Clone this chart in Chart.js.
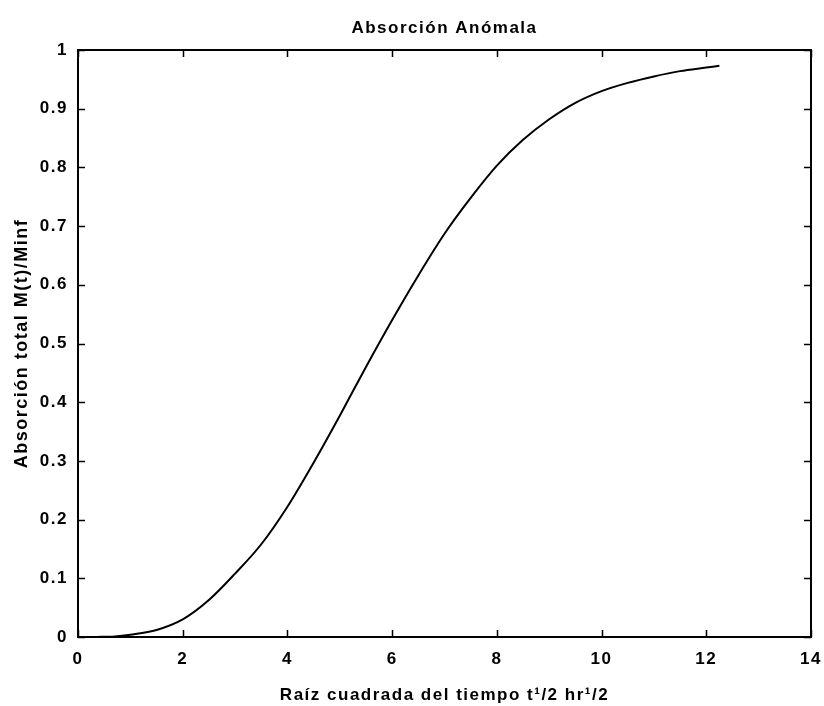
<!DOCTYPE html>
<html>
<head>
<meta charset="utf-8">
<script src="https://cdn.jsdelivr.net/npm/chart.js@4/dist/chart.umd.min.js"></script>
<style>
  html, body { margin: 0; padding: 0; background: #fff; }
  #wrap { width: 824px; height: 706px; }
</style>
</head>
<body>
<div id="wrap"><canvas id="chart" width="824" height="706"></canvas></div>
<script>
// sqrt(t) values and total absorption
const rootTime = [0.35, 0.7, 1, 1.5, 2, 2.5, 3, 3.5, 4, 4.5, 5, 5.5, 6, 6.5, 7, 7.5, 8, 8.5, 9, 9.5, 10, 10.5, 11, 11.5, 12, 12.25];
const absorption = [0, 0.001, 0.004, 0.012, 0.03, 0.063, 0.108, 0.158, 0.222, 0.297, 0.377, 0.46, 0.54, 0.616, 0.687, 0.748, 0.803, 0.847, 0.882, 0.91, 0.93, 0.944, 0.955, 0.964, 0.970, 0.973];

const xTicks = [0, 2, 4, 6, 8, 10, 12, 14];
const yTicks = [0, 0.1, 0.2, 0.3, 0.4, 0.5, 0.6, 0.7, 0.8, 0.9, 1];

const FONT = "'Liberation Sans', Arial, sans-serif";

// old MATLAB export has loosely spaced glyphs
const spacing = {
  id: 'spacing',
  beforeLayout(chart) { chart.ctx.letterSpacing = '1.5px'; },
  beforeDraw(chart) { chart.ctx.letterSpacing = '1.5px'; }
};

// box with ticks pointing inwards
const boxTicks = {
  id: 'boxTicks',
  afterDraw(chart) {
    const { ctx, chartArea: a, scales } = chart;
    const len = 7;
    ctx.save();
    ctx.strokeStyle = '#000';
    ctx.lineWidth = 1.5;
    ctx.beginPath();
    xTicks.forEach(v => {
      const px = Math.round(scales.x.getPixelForValue(v)) + 0.5;
      ctx.moveTo(px, a.bottom); ctx.lineTo(px, a.bottom - len);
      ctx.moveTo(px, a.top); ctx.lineTo(px, a.top + len);
    });
    yTicks.forEach(v => {
      const py = Math.round(scales.y.getPixelForValue(v)) + 0.5;
      ctx.moveTo(a.left, py); ctx.lineTo(a.left + len, py);
      ctx.moveTo(a.right, py); ctx.lineTo(a.right - len, py);
    });
    ctx.stroke();
    ctx.lineWidth = 2;
    ctx.strokeRect(a.left, a.top, a.right - a.left, a.bottom - a.top);
    ctx.restore();
  }
};

new Chart(document.getElementById('chart'), {
  type: 'line',
  data: {
    datasets: [{
      data: rootTime.map((x, i) => ({ x, y: absorption[i] })),
      borderColor: '#000',
      borderWidth: 2,
      pointRadius: 0,
      fill: false,
      cubicInterpolationMode: 'monotone'
    }]
  },
  options: {
    responsive: false,
    animation: false,
    layout: { padding: { right: 13, left: 0, top: 0, bottom: 0 } },
    plugins: {
      legend: { display: false },
      tooltip: { enabled: false },
      title: { display: false }
    },
    scales: {
      x: {
        type: 'linear',
        min: 0, max: 14,
        afterBuildTicks: s => { s.ticks = xTicks.map(v => ({ value: v })); },
        afterFit: s => { s.height = 69; s.paddingLeft = 0; s.paddingRight = 0; },
        grid: { display: false, drawTicks: false },
        border: { display: false },
        ticks: {
          color: '#000', padding: 12,
          font: { family: FONT, size: 17, weight: 'bold' },
          maxRotation: 0
        },
        title: {
          display: true,
          text: 'Raíz cuadrada del tiempo t¹/2 hr¹/2',
          color: '#000',
          font: { family: FONT, size: 17, weight: 'bold' },
          padding: { top: 8, bottom: 0 }
        }
      },
      // top axis only carries the chart title so it centres over the plot box
      top: {
        type: 'linear',
        position: 'top',
        min: 0, max: 14,
        afterFit: s => { s.height = 50; s.paddingLeft = 0; s.paddingRight = 0; },
        grid: { display: false, drawTicks: false },
        border: { display: false },
        ticks: { display: false },
        title: {
          display: true,
          text: 'Absorción Anómala',
          color: '#000',
          font: { family: FONT, size: 17, weight: 'bold' },
          padding: { top: 18, bottom: 0 }
        }
      },
      y: {
        min: 0, max: 1,
        afterBuildTicks: s => { s.ticks = yTicks.map(v => ({ value: v })); },
        afterFit: s => { s.width = 78; s.paddingTop = 0; s.paddingBottom = 0; },
        grid: { display: false, drawTicks: false },
        border: { display: false },
        ticks: {
          color: '#000', padding: 10,
          font: { family: FONT, size: 17, weight: 'bold' },
          callback: v => String(+v.toFixed(1))
        },
        title: {
          display: true,
          text: 'Absorción total M(t)/Minf',
          color: '#000',
          font: { family: FONT, size: 18, weight: 'bold' },
          padding: { top: 11, bottom: 0 }
        }
      }
    }
  },
  plugins: [spacing, boxTicks]
});
</script>
</body>
</html>
